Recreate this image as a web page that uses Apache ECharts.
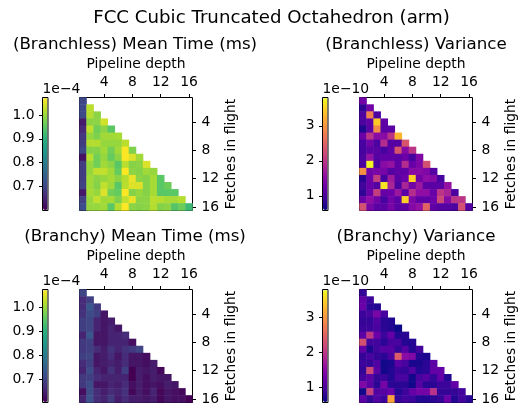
<!DOCTYPE html>
<html><head><meta charset="utf-8">
<style>html,body{margin:0;padding:0;background:#fff}#c{width:528px;height:417px}</style>
<script src="https://cdn.jsdelivr.net/npm/echarts@6/dist/echarts.min.js"></script></head>
<body><div id="c"></div>
<script>
const depthLabels = ['1','2','3','4','5','6','7','8','9','10','11','12','13','14','15','16'];
const meanTicks = [0.7,0.8,0.9,1.0];
const varianceTicks = [1,2,3];
const viridis = ['#440154','#472d7b','#3b528b','#2c728e','#21918c','#28ae80','#5ec962','#addc30','#fde725'];
const plasma = ['#0d0887','#41049d','#6a00a8','#8f0da4','#b12a90','#cb4778','#e16462','#f2844b','#fca636','#fcce25','#f0f921'];

const branchlessMean = [
[.70],
[.70,1.025],
[.70,1.02,.99],
[.63,.99,.99,1.04],
[.65,1.03,.97,.99,.95],
[.67,.998,.98,1.005,1.005,1.01],
[.68,1.02,1.02,.998,.998,.998,1.025],
[.70,.985,.985,1.005,.97,1.005,1.075,.98],
[.62,1.025,.97,.998,.96,.99,1.075,1.05,1.005],
[.68,.998,.97,1.005,.99,.95,1.025,.985,.99,1.05],
[.68,.998,1.03,1.03,1.005,.96,1.075,.99,.985,1.005,.998],
[.68,1.005,.99,.998,1.01,.99,1.02,1.06,.99,.985,1.01,.95],
[.69,1.005,.985,1.03,1.005,.95,1.025,1.05,1.05,.985,1.01,.95,.965],
[.63,1.01,.998,1.05,.97,.96,1.075,.985,.998,.985,1.01,.95,.95,.95],
[.69,.998,1.03,1.005,1.01,.98,1.03,1.06,.99,.99,1.025,1.02,1.01,1.01,1.02],
[.71,.998,.998,1.005,.95,1.02,1.075,.99,.985,.99,1.02,.985,.99,.945,.965,.92]
];
const branchlessVar = [
[1.3],
[.8,1.3],
[1.0,2.8,1.0],
[1.0,1.15,3.45,1.15],
[.7,1.1,2.9,1.1,1.1],
[1.25,2.0,1.5,1.5,2.0,3.3],
[.95,1.3,1.0,1.9,1.05,1.05,2.35],
[.95,1.1,1.1,.95,1.15,2.35,1.45,2.0],
[1.0,1.6,1.05,1.15,1.15,1.1,1.25,.95,1.4],
[1.0,3.8,1.0,1.5,1.6,1.15,1.9,1.2,1.4,2.3],
[2.95,1.3,1.35,1.35,1.05,1.15,1.15,1.5,1.5,1.4,1.05],
[.75,1.25,2.1,.95,1.7,1.1,1.25,3.5,1.3,1.55,1.45,.95],
[.9,1.2,1.05,3.65,1.8,1.0,1.8,1.3,1.65,1.1,1.1,1.1,1.6],
[.8,1.25,2.1,1.2,1.25,1.65,1.1,1.9,1.55,1.55,1.2,2.0,1.8,1.0],
[1.25,1.55,1.3,.95,1.3,1.1,3.5,1.4,1.15,1.15,1.25,2.2,1.45,2.0,2.0],
[2.3,1.35,1.1,1.1,1.35,1.1,1.15,1.45,1.6,2.5,1.15,1.05,1.05,1.0,2.3,1.05]
];
const branchyMean = [
[.70],
[.66,.69],
[.66,.73,.68],
[.67,.71,.69,.63],
[.69,.70,.65,.63,.64],
[.69,.70,.65,.63,.65,.63],
[.65,.73,.63,.63,.65,.65,.66],
[.68,.69,.63,.63,.65,.65,.65,.62],
[.68,.69,.66,.64,.67,.65,.67,.68,.70],
[.69,.70,.63,.64,.66,.63,.66,.63,.63,.62],
[.66,.69,.63,.64,.65,.64,.66,.63,.63,.62,.64],
[.65,.71,.65,.63,.67,.64,.69,.60,.64,.63,.64,.61],
[.68,.69,.66,.65,.65,.65,.65,.60,.64,.62,.64,.63,.63],
[.68,.71,.63,.63,.65,.64,.66,.62,.64,.62,.63,.62,.64,.63],
[.62,.71,.66,.64,.66,.65,.67,.61,.64,.62,.65,.61,.63,.62,.61],
[.65,.72,.66,.65,.68,.64,.66,.64,.64,.63,.64,.61,.63,.62,.62,.60]
];
const branchyVar = [
[.8],
[1.15,.85],
[1.2,.75,.7],
[.85,.95,1.35,.95],
[.8,.8,1.0,.75,.7],
[.85,.85,.95,.75,.7,.55],
[1.1,2.0,1.2,.85,1.15,.7,.75],
[2.3,.9,.9,.75,.95,.95,.7,.7],
[1.15,.65,.9,1.05,1.05,.8,1.05,.7,.9],
[.8,.95,.8,.75,.95,2.4,1.5,1.4,.7,.65],
[.85,.8,1.0,.6,.65,1.1,.95,.65,.65,.75,1.1],
[.8,2.2,1.1,.6,.7,.85,.8,1.0,.7,.75,1.15,1.15],
[.9,1.1,.8,.85,.7,.95,.95,.6,.95,1.05,.8,1.15,.7],
[1.4,1.1,.75,1.3,.75,.75,.75,.6,1.05,.75,.75,.85,.85,1.15],
[.6,2.1,1.0,1.05,1.2,.7,.85,1.15,1.3,1.3,1.95,.8,.8,.8,.9],
[1.1,.8,1.0,.85,3.1,.8,.9,.85,.7,.7,.75,.8,1.2,.7,.9,.75]
];

const FONT = 'DejaVu Sans', FS = 13.9, TFS = 13.9 * 1.2;
const panels = [
 {name:'(Branchless) Mean Time (ms)', rows:branchlessMean, col:viridis, min:.596, max:1.075, ticks:meanTicks, fix:1, exp:'1e\u22124', x:79.5, y:97.5, cx:42.5, cw:5.5, tx:135},
 {name:'(Branchless) Variance', rows:branchlessVar, col:plasma, min:.58, max:3.81, ticks:varianceTicks, fix:0, exp:'1e\u221210', x:359.5, y:97.5, cx:322.5, cw:5.5, tx:416},
 {name:'(Branchy) Mean Time (ms)', rows:branchyMean, col:viridis, min:.6025, max:1.075, ticks:meanTicks, fix:1, exp:'1e\u22124', x:79.5, y:289.5, cx:42.5, cw:5.5, tx:135},
 {name:'(Branchy) Variance', rows:branchyVar, col:plasma, min:.56, max:3.8, ticks:varianceTicks, fix:0, exp:'1e\u221210', x:359.5, y:289.5, cx:322.5, cw:5.5, tx:416}
];
const SIZE = 113;
const option = {animation:false, textStyle:{fontFamily:FONT,color:'#000'},
 title:[{text:'FCC Cubic Truncated Octahedron (arm)',left:271.5,top:9,padding:0,textAlign:'center',textStyle:{fontFamily:FONT,fontSize:18.2,fontWeight:'normal',color:'#000'}}],
 grid:[],xAxis:[],yAxis:[],series:[],visualMap:[],graphic:[]};
const fourth = (i)=> (i+1)%4===0;
panels.forEach((p,k)=>{
 option.title.push({text:p.name,left:p.tx,top:p.y-61,padding:0,textAlign:'center',textStyle:{fontFamily:FONT,fontSize:TFS,fontWeight:'normal',color:'#000'}});
 option.grid.push({left:p.x,top:p.y,width:SIZE,height:SIZE,show:true,borderColor:'#000',borderWidth:1,backgroundColor:'#fff',z:5});
 const ax = {type:'category',data:depthLabels,gridIndex:2*k,splitLine:{show:false},splitArea:{show:false},
   axisLine:{show:false},
   axisTick:{show:true,alignWithLabel:true,interval:(i)=>fourth(i),length:3.5,lineStyle:{color:'#000',width:1}},
   nameTextStyle:{color:'#000',fontFamily:FONT,fontSize:FS}};
 const lbl = (m,pad)=>({interval:(i)=>fourth(i),color:'#000',fontFamily:FONT,fontSize:FS,margin:m,padding:pad});
 option.xAxis.push(Object.assign({},ax,{position:'top',axisLabel:lbl(8,0),name:'Pipeline depth',nameLocation:'middle',nameGap:26}));
 option.yAxis.push(Object.assign({},ax,{position:'right',inverse:true,axisLabel:lbl(9,[3,0,0,0]),name:'Fetches in flight',nameLocation:'middle',nameGap:32,nameRotate:90}));
 const data=[];
 p.rows.forEach((r,ri)=>r.forEach((v,ci)=>data.push([ci,ri,v])));
 option.series.push({type:'heatmap',xAxisIndex:2*k,yAxisIndex:2*k,data:data,z:6,itemStyle:{borderWidth:0},emphasis:{disabled:true}});
 option.visualMap.push({type:'continuous',seriesIndex:k,min:p.min,max:p.max,dimension:2,calculable:false,hoverLink:false,
   left:p.cx+.5,top:p.y+.5,itemWidth:p.cw-1,itemHeight:SIZE-1,padding:0,text:null,inRange:{color:p.col},z:4});
 option.grid.push({left:p.cx,top:p.y,width:p.cw,height:SIZE,show:true,borderColor:'#000',borderWidth:1,backgroundColor:'transparent',z:8});
 option.xAxis.push({type:'value',gridIndex:2*k+1,show:false,min:0,max:1});
 option.yAxis.push({type:'value',gridIndex:2*k+1,position:'left',min:p.min,max:p.max,splitLine:{show:false},axisLine:{show:false},
   axisTick:{show:true,length:3.5,customValues:p.ticks,lineStyle:{color:'#000',width:1}},
   axisLabel:{customValues:p.ticks,color:'#000',fontFamily:FONT,fontSize:FS,margin:8,padding:[2,0,0,0],showMinLabel:true,showMaxLabel:true,formatter:(v)=>v.toFixed(p.fix)}});
 option.graphic.push({type:'text',left:p.cx,top:p.y-15,style:{text:p.exp,font:FS+'px "DejaVu Sans"',fill:'#000'}});
});
echarts.init(document.getElementById('c'),null,{renderer:'canvas'}).setOption(option);
</script></body></html>
